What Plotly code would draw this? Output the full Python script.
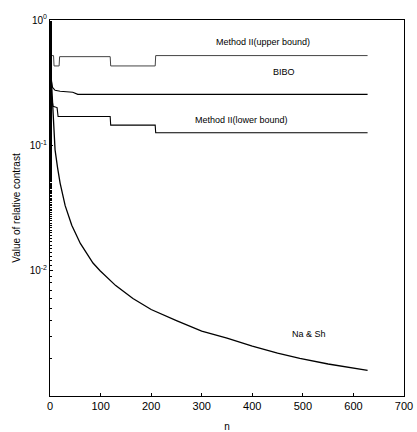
import math
import plotly.graph_objects as go

# Method II (upper bound)
upper_n = [1, 7, 8, 18, 19, 119, 120, 208, 209, 628]
upper_v = [0.52, 0.52, 0.43, 0.43, 0.51, 0.51, 0.43, 0.43, 0.52, 0.52]

# BIBO
bibo_n = [1, 3, 5, 10, 20, 45, 55, 100, 300, 628]
bibo_v = [0.36, 0.31, 0.29, 0.275, 0.27, 0.265, 0.255, 0.255, 0.255, 0.255]

# Method II (lower bound)
lower_n = [1, 3, 6, 14, 16, 119, 120, 208, 209, 628]
lower_v = [0.28, 0.24, 0.205, 0.2, 0.17, 0.17, 0.145, 0.145, 0.126, 0.126]

# Na & Sh
nash_n = [1, 2, 3, 5, 8, 10, 15, 20, 30, 43, 60, 85, 99, 130, 164, 200, 250, 300, 350, 400, 450, 494, 550, 600, 628]
nash_v = [0.45, 0.38, 0.3, 0.19, 0.12, 0.092, 0.066, 0.05, 0.033, 0.023, 0.0165, 0.0115, 0.01, 0.0076,
          0.006, 0.0049, 0.004, 0.0033, 0.0029, 0.0025, 0.0022, 0.002, 0.0018, 0.00166, 0.0016]

x_ticks = [0, 100, 200, 300, 400, 500, 600, 700]
y_ticks = [1, 0.1, 0.01]
y_tick_text = ["10<sup>0</sup>", "10<sup>-1</sup>", "10<sup>-2</sup>"]

line = dict(color="black", width=1.1)
fig = go.Figure()
fig.add_trace(go.Scatter(x=upper_n, y=upper_v, mode="lines", line=dict(color="#444", width=1)))
fig.add_trace(go.Scatter(x=bibo_n, y=bibo_v, mode="lines", line=line))
fig.add_trace(go.Scatter(x=lower_n, y=lower_v, mode="lines", line=line))
fig.add_trace(go.Scatter(x=nash_n, y=nash_v, mode="lines", line=dict(color="black", width=1.3)))

font = dict(family="Liberation Sans, Arial", size=9, color="black")
ann = [
    dict(x=0.74, y=0.52, text="Method II(upper bound)", yshift=14),
    dict(x=0.66, y=0.52, text="BIBO", yshift=-16),
    dict(x=0.54, y=0.126, text="Method II(lower bound)", yshift=13),
    dict(x=0.785, y=0.0018, text="Na &amp; Sh", yshift=30),
]
annotations = []
for a in ann:
    annotations.append(dict(x=a["x"], xref="paper", y=math.log10(a["y"]), yref="y", text=a["text"],
                            showarrow=False, font=font, yshift=a["yshift"]))

fig.update_layout(
    width=417, height=432,
    margin=dict(l=50, r=13, t=20, b=36),
    paper_bgcolor="white", plot_bgcolor="white",
    showlegend=False,
    font=dict(family="Liberation Sans, Arial", size=10, color="black"),
    annotations=annotations,
)
fig.update_xaxes(range=[0, 700], tickvals=x_ticks, showgrid=False, zeroline=False, automargin=False,
                 showline=True, linecolor="black", linewidth=1, mirror=True,
                 ticks="inside", ticklen=3, tickcolor="black", tickfont=dict(size=11),
                 title=dict(text="n", standoff=11, font=dict(size=10)))
fig.update_yaxes(type="log", range=[-3, 0], tickvals=y_ticks, ticktext=y_tick_text, automargin=False,
                 showgrid=False, zeroline=False,
                 showline=True, linecolor="black", linewidth=1, mirror=True,
                 ticks="inside", ticklen=3, tickcolor="black", tickfont=dict(size=10),
                 minor=dict(ticks="inside", ticklen=2, tickcolor="black", showgrid=False),
                 title=dict(text="Value of relative contrast", standoff=7, font=dict(size=10)))

fig.write_html("out.html", config={"displayModeBar": False},
               post_script="document.body.style.margin='0';")
